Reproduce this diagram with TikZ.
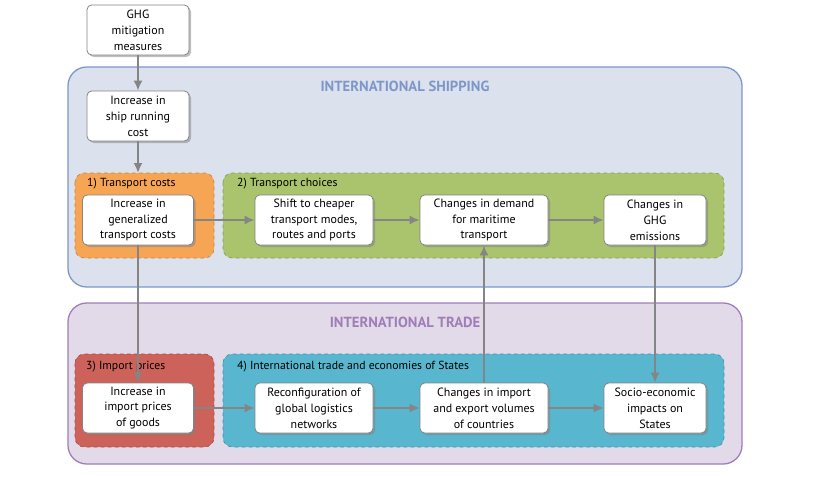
\documentclass[tikz,border=0pt]{standalone}
\usepackage{fontspec}
\setmainfont{PT Sans}
\usetikzlibrary{shadows,arrows.meta}
\definecolor{shipfill}{HTML}{DCE1EE}
\definecolor{shipline}{HTML}{7E97C9}
\definecolor{tradefill}{HTML}{E3DAE9}
\definecolor{tradeline}{HTML}{A07DB8}
\definecolor{costfill}{HTML}{F6A555}
\definecolor{choicefill}{HTML}{A9C46C}
\definecolor{pricefill}{HTML}{CC6259}
\definecolor{tradebox}{HTML}{58B6CE}
\definecolor{arrowgray}{HTML}{858585}
\tikzset{
  effect/.style={draw=arrowgray, line width=0.7pt, fill=white, rounded corners=4pt,
    align=center, minimum width=3.06cm, minimum height=1.5cm, inner sep=1pt,
    font=\fontsize{10.2}{13.6}\selectfont,
    drop shadow={shadow xshift=0.6mm, shadow yshift=-0.6mm, opacity=0.5}},
  group/.style={dashed, line width=0.6pt, rounded corners=8pt},
  area/.style={line width=1.1pt, rounded corners=16pt},
  flow/.style={-{Latex[length=3mm, width=2.7mm]}, arrowgray, line width=1.5pt},
  grouplabel/.style={anchor=west, inner sep=0pt, font=\fontsize{10}{12}\selectfont},
  areatitle/.style={font=\fontsize{12.5}{15}\selectfont\bfseries}
}
\begin{document}
\begin{tikzpicture}[x=0.03cm, y=-0.03cm]
    \useasboundingbox (0,0) rectangle (816,477);
    % areas
    \draw [area, draw=shipline, fill=shipfill] (68,67) rectangle (742,287);
    \draw [area, draw=tradeline, fill=tradefill] (68,303) rectangle (742,464);
    \node [areatitle, text=shipline] (shiptitle) at (405,86) {INTERNATIONAL SHIPPING};
    \node [areatitle, text=tradeline] (tradetitle) at (405,322) {INTERNATIONAL TRADE};
    % groups
    \draw [group, draw=costfill!80!black, fill=costfill] (75,173) rectangle (214,258);
    \draw [group, draw=choicefill!80!black, fill=choicefill] (223,173) rectangle (724,258);
    \draw [group, draw=pricefill!80!black, fill=pricefill] (75,354) rectangle (214,447);
    \draw [group, draw=tradebox!80!black, fill=tradebox] (223,354) rectangle (724,447);
    \coordinate (costtop) at (138,173);
    \node [grouplabel] (costlabel) at (87,184) {1) Transport costs};
    \node [grouplabel] (choicelabel) at (237,184) {2) Transport choices};
    \node [grouplabel] (pricelabel) at (86,367) {3) Import prices};
    \node [grouplabel] (tradelabel) at (237,367) {4) International trade and economies of States};
    % boxes
    \node [effect] (ghg) at (138,30) {GHG\\mitigation\\measures};
    \node [effect] (running) at (138,116) {Increase in\\ship running\\cost};
    \node [effect, minimum width=3.33cm] (generalized) at (138,220) {Increase in\\generalized\\transport costs};
    \node [effect, minimum width=3.54cm] (shift) at (314,220) {Shift to cheaper\\transport modes,\\routes and ports};
    \node [effect, minimum width=3.84cm] (demand) at (484,220) {Changes in demand\\for maritime\\transport};
    \node [effect] (emissions) at (655,220) {Changes in\\GHG\\emissions};
    \node [effect, minimum width=3.33cm] (importprices) at (138,408) {Increase in\\import prices\\of goods};
    \node [effect, minimum width=3.54cm] (reconfig) at (314,408) {Reconfiguration of\\global logistics\\networks};
    \node [effect, minimum width=3.84cm] (volumes) at (484,408) {Changes in import\\and export volumes\\of countries};
    \node [effect] (impacts) at (655,408) {Socio-economic\\impacts on\\States};
    % arrows
    \draw [flow] (ghg) -- (running);
    \draw [flow] (running) -- (costtop);
    \draw [flow] (generalized) -- (shift);
    \draw [flow] (shift) -- (demand);
    \draw [flow] (demand) -- (emissions);
    \draw [flow] (generalized) -- (importprices);
    \draw [flow] (importprices) -- (reconfig);
    \draw [flow] (reconfig) -- (volumes);
    \draw [flow] (volumes) -- (impacts);
    \draw [flow] (volumes) -- (demand);
    \draw [flow] (emissions) -- (impacts);
\end{tikzpicture}
\end{document}
